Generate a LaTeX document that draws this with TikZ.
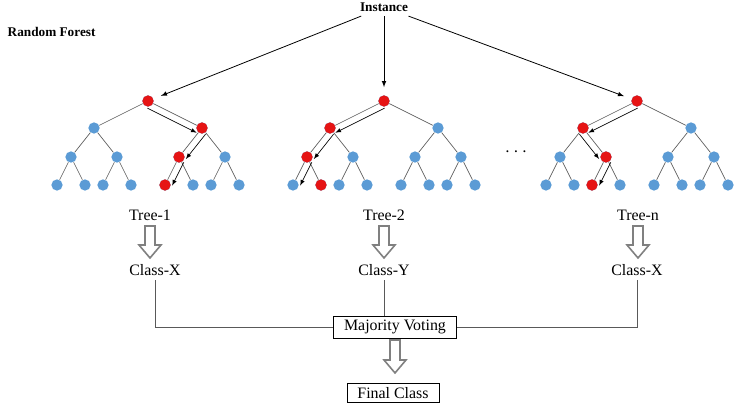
\documentclass[tikz,border=0pt]{standalone}
\usepackage{fontspec}
\setmainfont{Liberation Serif}
\usetikzlibrary{calc}
\definecolor{dotblue}{RGB}{91,155,213}
\definecolor{dotred}{RGB}{230,20,20}
\tikzset{
  dot/.style={circle, fill=dotblue, inner sep=0pt, minimum size=8.5pt},
  reddot/.style={dot, fill=dotred},
  edge/.style={gray!70!black, line width=0.5pt},
  walk/.style={-latex, line width=0.5pt, shorten <=2pt, shorten >=2pt},
  box/.style={draw, inner xsep=8pt, inner ysep=3pt},
  hollow/.style={draw=gray, fill=white, line width=1.2pt}
}
% one tree of depth 3
\newcommand\forest[2]{%
  \node[dot] (#1) at (#2,101) {};
  \foreach \i/\dx in {l/-54,r/54} {
    \node[dot] (#1\i) at (#2+\dx,128) {};
    \draw[edge] (#1) -- (#1\i);
    \foreach \j/\ddx in {l/-23,r/23} {
      \node[dot] (#1\i\j) at (#2+\dx+\ddx,157) {};
      \draw[edge] (#1\i) -- (#1\i\j);
      \foreach \k/\dddx in {l/-14,r/14} {
        \node[dot] (#1\i\j\k) at (#2+\dx+\ddx+\dddx,185) {};
        \draw[edge] (#1\i\j) -- (#1\i\j\k);
      }
    }
  }}
% arrow beside an edge, #3 = side
\newcommand\walkto[3]{%
  \draw[walk] ($(#1)!5pt!#3:(#2)$) -- ($(#2)!5pt!-#3:(#1)$);}
% hollow down arrow
\newcommand\hollowdown[3]{%
  \draw[hollow] (#1-5,#2) -- (#1+5,#2) -- (#1+5,#3-13) -- (#1+11,#3-13)
    -- (#1,#3) -- (#1-11,#3-13) -- (#1-5,#3-13) -- cycle;}
\begin{document}
\begin{tikzpicture}[x=0.0265cm, y=-0.0265cm, font=\fontsize{12}{14}\selectfont]
\useasboundingbox (0,0) rectangle (748,410);
% header
\node[font=\bfseries] (inst) at (384,7) {Instance};
\node[font=\bfseries, anchor=west] (rf) at (3,32) {Random Forest};
% trees
\forest{a}{148}
\forest{b}{384}
\forest{c}{637}
\node[font=\Large] at (516,152) {$\cdots$};
% decision paths
\foreach \n in {a,ar,arl,arll} \node[reddot] at (\n) {};
\foreach \n in {b,bl,bll,bllr} \node[reddot] at (\n) {};
\foreach \n in {c,cl,clr,clrl} \node[reddot] at (\n) {};
\walkto{a}{ar}{-90} \walkto{ar}{arl}{90} \walkto{arl}{arll}{90}
\walkto{b}{bl}{90} \walkto{bl}{bll}{90} \walkto{bll}{blll}{90}
\walkto{c}{cl}{90} \walkto{cl}{clr}{-90} \walkto{clr}{clrl}{90}
% instance to trees
\foreach \t in {a,b,c} \draw[-latex, line width=0.6pt, shorten >=6pt] (inst) -- (\t);
% labels
\node (t1) at (150,215) {Tree-1};
\node (t2) at (384,215) {Tree-2};
\node (tn) at (638,215) {Tree-n};
\hollowdown{150}{226}{258}
\hollowdown{384}{226}{258}
\hollowdown{638}{226}{258}
\node (cx1) at (155,270) {Class-X};
\node (cy) at (384,270) {Class-Y};
\node (cx2) at (637,270) {Class-X};
\node[box] (mv) at (395,327) {Majority Voting};
\node[box] (fc) at (393,393) {Final Class};
\draw[edge] (cx1.south) |- (mv.west);
\draw[edge] (cy.south) -- (cy.south |- mv.north);
\draw[edge] (cx2.south) |- (mv.east);
\hollowdown{395}{340}{373}
\end{tikzpicture}
\end{document}
